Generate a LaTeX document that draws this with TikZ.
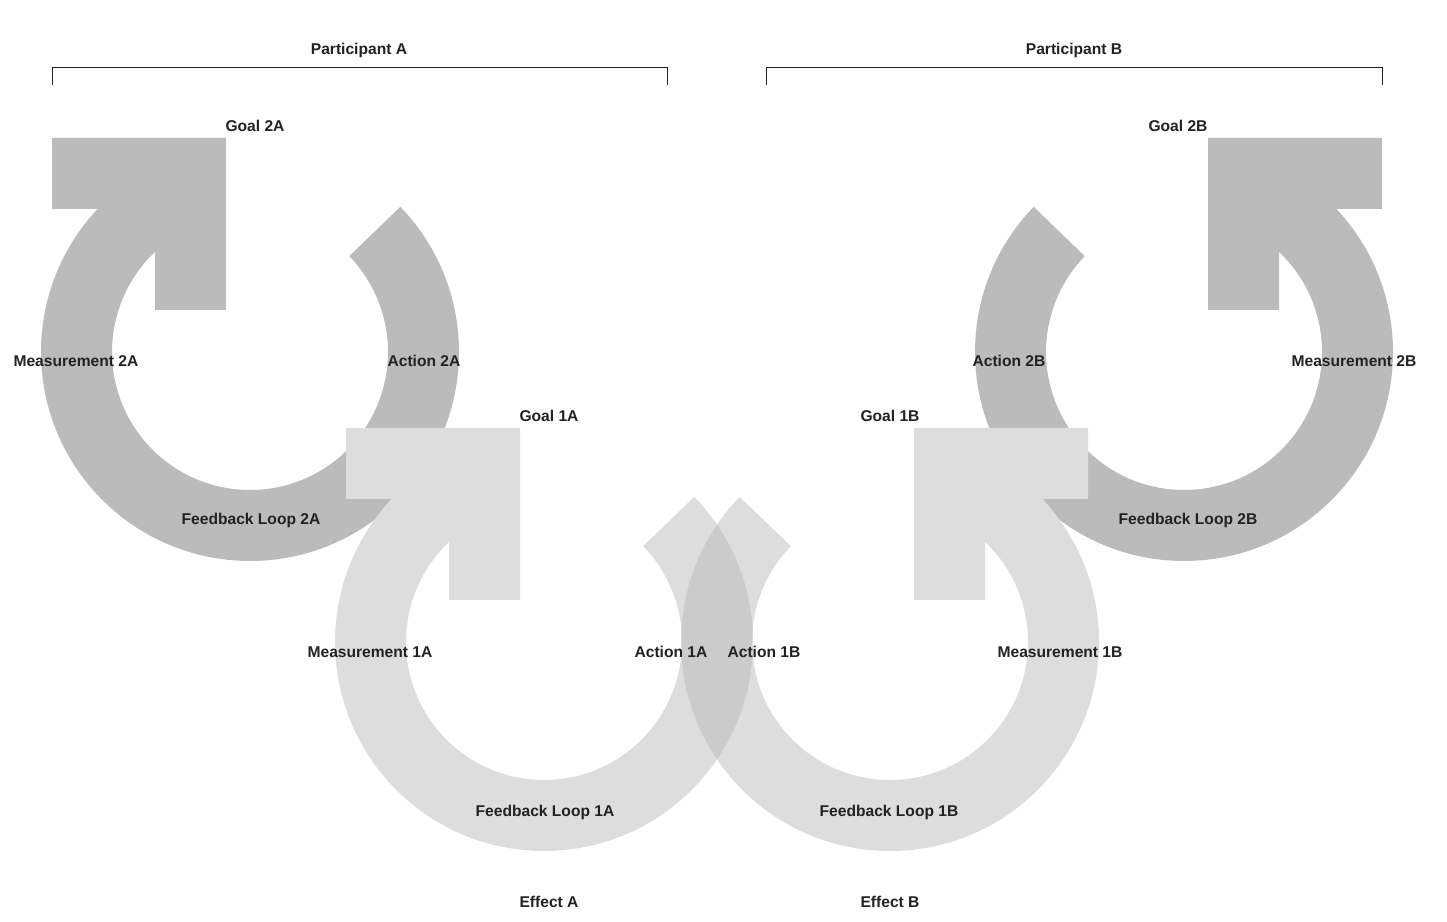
\documentclass[tikz,border=0pt]{standalone}
\usepackage{fontspec}
\setmainfont{Liberation Sans}
\definecolor{darkloop}{HTML}{BBBBBB}
\definecolor{lightloop}{HTML}{DDDDDD}
\definecolor{overlaploop}{HTML}{CBCBCB}
\definecolor{inktext}{HTML}{222222}
\newcommand\ringpath{(44:209) arc[start angle=44, end angle=-224, radius=209] -- (-70,172) -- (-227:138) arc[start angle=-227, end angle=44, radius=138] -- cycle}
\newcommand\headpath{(-198,214) -- (-24,214) -- (-24,42) -- (-95,42) -- (-95,143) -- (-198,143) -- cycle}
\begin{document}
\begin{tikzpicture}[x=1pt,y=1pt,
  lbl/.style={font=\fontsize{15.6}{18}\selectfont\bfseries, text=inktext, inner sep=0pt},
  bracketline/.style={draw=inktext, line width=1pt}]
\useasboundingbox (0,0) rectangle (1447,921);
% outer loops (2A, 2B)
\fill[darkloop, shift={(250,569)}] \ringpath;
\fill[darkloop, shift={(250,569)}] \headpath;
\fill[darkloop, shift={(1184,569)}, xscale=-1] \ringpath;
\fill[darkloop, shift={(1184,569)}, xscale=-1] \headpath;
% inner loops (1A, 1B)
\fill[lightloop, shift={(544,279)}] \ringpath;
\fill[lightloop, shift={(544,279)}] \headpath;
\fill[lightloop, shift={(890,279)}, xscale=-1] \ringpath;
\fill[lightloop, shift={(890,279)}, xscale=-1] \headpath;
% overlap of 1A and 1B
\begin{scope}
  \clip[shift={(544,279)}] \ringpath;
  \fill[overlaploop, shift={(890,279)}, xscale=-1] \ringpath;
\end{scope}
% brackets
\coordinate (pa1) at (52,836); \coordinate (pa2) at (52,853);
\coordinate (pa3) at (667,853); \coordinate (pa4) at (667,836);
\coordinate (pb1) at (766,836); \coordinate (pb2) at (766,853);
\coordinate (pb3) at (1382,853); \coordinate (pb4) at (1382,836);
\draw[bracketline] (pa1) -- (pa2) -- (pa3) -- (pa4);
\draw[bracketline] (pb1) -- (pb2) -- (pb3) -- (pb4);
% labels
\node[lbl] (partA) at (359,871) {Participant A};
\node[lbl] (partB) at (1074,871) {Participant B};
\node[lbl] (goal2A) at (255,795) {Goal 2A};
\node[lbl] (goal2B) at (1178,795) {Goal 2B};
\node[lbl] (meas2A) at (76,560) {Measurement 2A};
\node[lbl] (act2A) at (424,560) {Action 2A};
\node[lbl] (meas2B) at (1354,560) {Measurement 2B};
\node[lbl] (act2B) at (1009,560) {Action 2B};
\node[lbl] (fb2A) at (251,401) {Feedback Loop 2A};
\node[lbl] (fb2B) at (1188,401) {Feedback Loop 2B};
\node[lbl] (goal1A) at (549,505) {Goal 1A};
\node[lbl] (goal1B) at (890,505) {Goal 1B};
\node[lbl] (meas1A) at (370,269) {Measurement 1A};
\node[lbl] (act1A) at (671,269) {Action 1A};
\node[lbl] (act1B) at (764,269) {Action 1B};
\node[lbl] (meas1B) at (1060,269) {Measurement 1B};
\node[lbl] (fb1A) at (545,109) {Feedback Loop 1A};
\node[lbl] (fb1B) at (889,109) {Feedback Loop 1B};
\node[lbl] (effA) at (549,19) {Effect A};
\node[lbl] (effB) at (890,19) {Effect B};
\end{tikzpicture}
\end{document}
